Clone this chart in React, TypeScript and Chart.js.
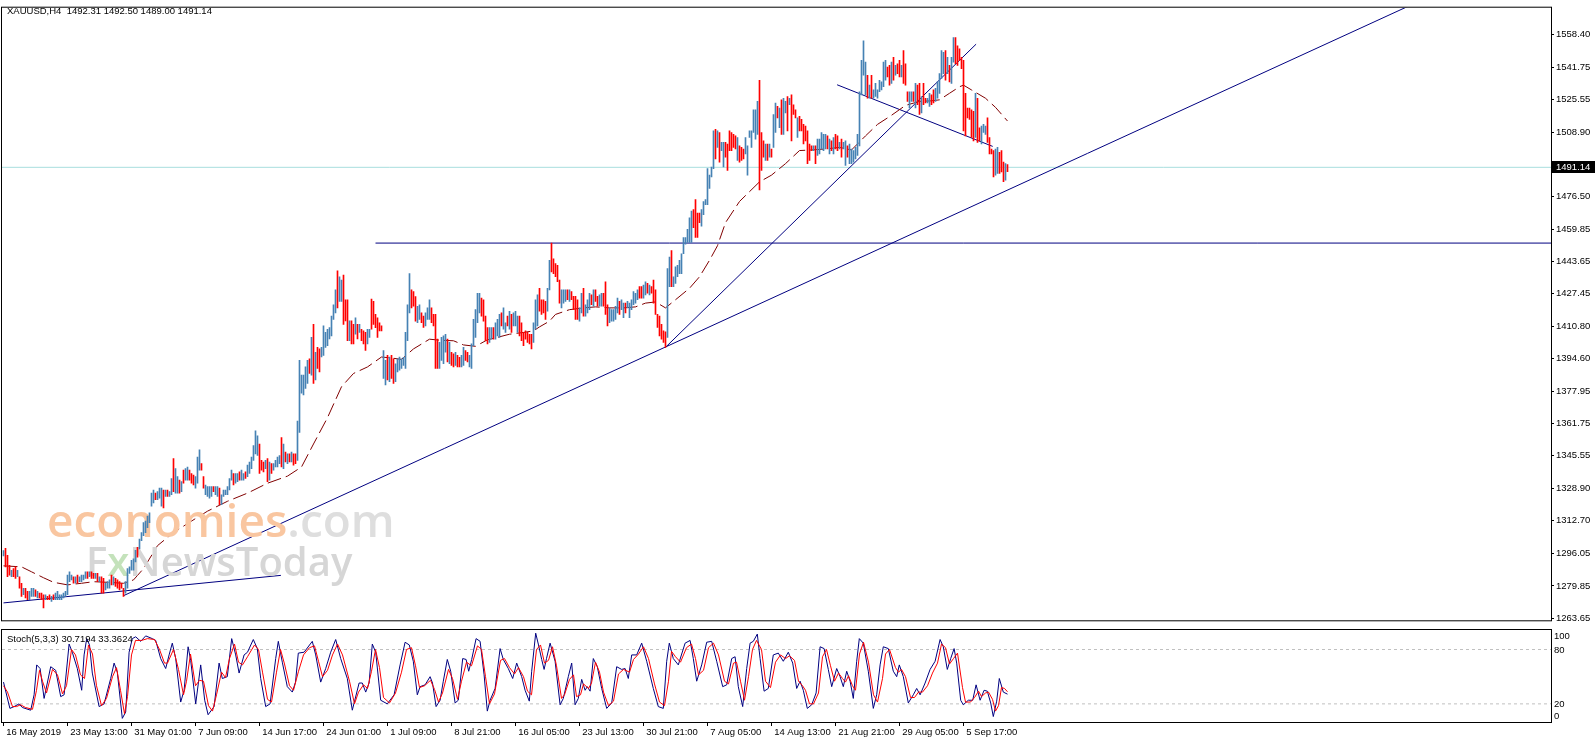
import React, { useEffect, useRef } from "react";
import { Chart, registerables } from "chart.js";
Chart.register(...registerables);

// ---------- data ----------
const symbol = "XAUUSD,H4";
const lastOHLC = [1492.31, 1492.5, 1489.0, 1491.14];
const lastPrice = 1491.14;

const barLow = [
  1295.0,1289.5,1284.5,1285.3,1284.5,1284.5,1283.7,1284.5,1278.7,1274.6,
  1275.4,1273.8,1272.9,1272.9,1274.6,1274.6,1274.6,1273.8,1273.8,1272.9,
  1268.8,1272.9,1272.9,1272.9,1272.1,1272.9,1272.9,1272.9,1272.9,1272.9,
  1273.8,1274.6,1275.4,1282.0,1282.9,1281.2,1281.2,1281.2,1282.0,1282.0,
  1282.9,1283.7,1283.7,1284.5,1283.7,1283.7,1283.7,1282.0,1282.0,1276.2,
  1276.2,1277.9,1278.7,1278.7,1280.4,1280.4,1279.6,1278.7,1277.9,1278.7,
  1274.6,1276.2,1278.7,1286.2,1287.8,1287.8,1292.0,1294.4,1298.6,1302.7,
  1305.2,1306.8,1309.3,1311.8,1320.1,1321.7,1323.4,1323.4,1324.2,1320.1,
  1319.3,1325.0,1325.0,1325.0,1325.9,1327.5,1326.7,1326.7,1326.7,1327.5,
  1331.7,1333.3,1333.3,1333.3,1331.7,1330.8,1329.2,1331.7,1338.3,1338.3,
  1329.2,1325.9,1325.0,1324.2,1325.0,1327.5,1325.9,1325.0,1320.9,1320.9,
  1325.0,1325.9,1325.9,1328.3,1333.3,1330.8,1331.7,1332.5,1333.3,1333.3,
  1333.3,1334.1,1335.0,1336.6,1339.1,1343.2,1346.5,1345.7,1336.6,1338.3,
  1337.4,1339.1,1332.5,1333.3,1336.6,1338.3,1339.9,1339.9,1341.6,1339.9,
  1339.1,1342.4,1341.6,1342.4,1342.4,1340.8,1341.6,1343.2,1357.3,1377.2,
  1376.3,1379.6,1382.1,1387.1,1386.3,1382.1,1383.8,1389.6,1387.9,1395.4,
  1396.2,1400.3,1401.1,1404.5,1406.1,1414.4,1417.7,1420.2,1423.5,1423.5,
  1411.9,1413.6,1403.6,1403.6,1402.0,1402.0,1406.9,1404.5,1407.8,1403.6,
  1402.0,1398.7,1402.0,1405.3,1409.4,1411.9,1410.2,1405.3,1408.6,1408.6,
  1384.6,1381.3,1383.8,1382.9,1384.6,1382.1,1382.9,1387.9,1388.7,1389.6,
  1391.2,1389.6,1403.6,1417.7,1420.2,1421.0,1413.5,1412.7,1414.4,1412.7,
  1410.3,1411.1,1414.4,1414.4,1412.7,1411.1,1389.6,1389.6,1389.6,1393.7,
  1392.0,1397.8,1392.9,1392.0,1391.2,1390.4,1391.2,1390.4,1390.4,1390.4,
  1391.2,1393.7,1392.9,1390.4,1389.6,1401.1,1405.3,1412.7,1417.7,1416.0,
  1413.5,1403.6,1402.0,1402.8,1404.4,1404.4,1404.4,1406.1,1405.3,1411.1,
  1409.4,1407.8,1411.1,1409.4,1407.8,1411.1,1411.1,1407.8,1406.1,1403.6,
  1401.1,1404.4,1402.8,1402.0,1399.5,1402.8,1409.4,1411.1,1418.5,1416.9,
  1417.7,1414.4,1418.5,1429.3,1438.4,1437.5,1435.9,1433.4,1422.6,1420.2,
  1422.6,1423.5,1424.3,1423.5,1424.3,1419.3,1414.4,1414.4,1413.5,1417.7,
  1416.0,1416.0,1417.7,1419.3,1421.8,1421.0,1423.5,1421.0,1421.0,1421.0,
  1421.0,1416.9,1411.1,1412.7,1413.5,1413.5,1414.4,1417.7,1416.9,1419.3,
  1415.2,1417.7,1420.2,1415.2,1419.3,1421.8,1422.6,1424.3,1425.1,1425.1,
  1425.1,1426.8,1427.6,1426.8,1427.6,1422.6,1416.9,1410.3,1406.1,1404.4,
  1402.8,1400.3,1405.3,1430.9,1430.9,1430.9,1432.6,1435.9,1437.5,1437.5,
  1447.5,1452.4,1453.2,1453.2,1453.2,1460.7,1455.7,1455.7,1463.2,1461.5,
  1467.3,1472.3,1472.3,1480.5,1486.3,1490.5,1495.4,1501.2,1493.8,1499.6,
  1491.3,1496.3,1489.6,1499.6,1499.6,1501.2,1500.4,1494.6,1493.8,1494.6,
  1495.4,1497.9,1487.2,1506.2,1501.2,1508.7,1505.4,1507.8,1479.7,1489.6,
  1496.3,1494.6,1494.6,1496.3,1496.3,1501.2,1508.7,1516.1,1511.1,1507.8,
  1507.8,1518.6,1509.5,1522.7,1504.5,1517.8,1516.1,1506.2,1509.5,1509.5,
  1502.9,1504.5,1493.0,1494.6,1499.6,1499.6,1493.0,1497.1,1497.9,1500.4,
  1499.6,1500.4,1500.4,1497.9,1499.6,1497.9,1500.4,1499.6,1500.4,1496.3,
  1500.4,1492.1,1496.3,1493.0,1493.0,1493.8,1495.4,1497.1,1502.0,1527.7,
  1537.6,1527.7,1526.0,1526.0,1526.0,1526.0,1526.9,1526.0,1529.3,1530.2,
  1531.8,1535.1,1536.8,1532.6,1533.5,1535.1,1537.6,1538.4,1536.8,1536.8,
  1533.5,1532.6,1524.4,1521.1,1524.4,1524.4,1521.1,1522.7,1517.8,1518.6,
  1522.7,1523.6,1523.6,1521.9,1522.7,1523.6,1524.4,1526.0,1528.5,1536.0,
  1538.4,1535.1,1538.4,1534.3,1533.5,1544.2,1543.4,1542.6,1545.1,1540.9,
  1509.5,1507.0,1516.1,1515.3,1506.2,1504.5,1506.2,1503.7,1504.5,1502.9,
  1508.7,1507.8,1503.7,1497.9,1497.9,1486.3,1487.2,1488.0,1488.0,1488.8,
  1483.9,1484.7,1489.0,
];

const barHigh = [
  1297.7,1298.9,1295.3,1290.3,1287.8,1288.6,1289.5,1287.8,1284.5,1281.2,
  1278.7,1278.7,1277.1,1277.1,1278.7,1278.7,1277.9,1277.1,1276.2,1276.2,
  1275.4,1275.4,1274.6,1275.4,1274.6,1275.4,1276.2,1277.1,1275.4,1275.4,
  1276.2,1277.1,1285.3,1287.0,1285.3,1284.5,1284.5,1285.3,1284.5,1285.3,
  1285.3,1287.0,1287.0,1287.0,1287.0,1286.2,1286.2,1286.2,1284.5,1284.5,
  1283.7,1281.2,1282.0,1282.9,1285.3,1284.5,1283.7,1282.9,1282.0,1281.2,
  1278.7,1282.0,1288.6,1289.5,1292.8,1293.6,1297.8,1299.4,1303.5,1306.8,
  1311.8,1312.6,1315.1,1316.8,1326.7,1328.3,1326.7,1327.5,1329.2,1329.2,
  1328.3,1328.3,1328.3,1327.5,1334.1,1344.1,1339.1,1335.0,1333.3,1332.5,
  1338.3,1339.1,1339.9,1338.3,1336.6,1335.8,1335.0,1344.9,1348.5,1341.6,
  1335.0,1330.8,1330.0,1330.0,1330.0,1330.0,1330.0,1330.0,1329.2,1325.9,
  1328.3,1328.3,1330.0,1334.1,1338.3,1336.6,1336.6,1336.6,1337.4,1338.3,
  1336.6,1337.4,1340.8,1342.4,1344.9,1350.7,1358.1,1355.6,1351.5,1343.2,
  1342.4,1343.2,1344.1,1342.4,1341.6,1341.6,1343.2,1344.9,1345.7,1354.8,
  1351.5,1347.4,1346.5,1346.5,1347.4,1346.5,1346.5,1363.1,1393.7,1386.3,
  1386.3,1390.4,1393.7,1394.5,1405.3,1411.9,1397.8,1400.3,1399.5,1400.3,
  1411.1,1407.8,1409.4,1410.3,1416.0,1421.8,1429.3,1438.9,1435.9,1434.2,
  1436.7,1424.3,1424.3,1413.6,1413.6,1411.9,1415.2,1411.9,1411.9,1409.4,
  1408.6,1407.8,1409.4,1409.4,1424.6,1423.5,1416.9,1415.2,1412.7,1411.1,
  1398.7,1393.7,1396.2,1395.4,1396.2,1394.5,1392.0,1394.5,1395.4,1394.5,
  1395.3,1407.8,1421.8,1437.5,1429.3,1428.4,1425.9,1421.0,1421.8,1417.7,
  1416.0,1417.7,1420.2,1424.3,1420.2,1416.9,1416.9,1404.4,1402.8,1405.3,
  1406.1,1406.9,1404.4,1402.8,1397.8,1397.0,1397.8,1396.2,1395.3,1396.2,
  1400.3,1398.7,1397.8,1396.2,1402.0,1414.4,1419.3,1427.6,1427.6,1425.1,
  1424.3,1416.0,1410.3,1410.3,1410.3,1410.3,1412.7,1414.4,1416.9,1417.7,
  1420.2,1412.7,1416.0,1418.5,1416.9,1417.7,1418.5,1416.0,1416.0,1412.7,
  1407.8,1408.6,1407.8,1406.9,1406.9,1412.7,1424.3,1426.8,1430.1,1424.3,
  1424.3,1423.5,1430.1,1444.2,1452.9,1445.0,1442.5,1441.7,1434.2,1429.3,
  1429.3,1429.3,1429.3,1429.3,1428.4,1426.0,1426.0,1424.3,1420.2,1427.6,
  1430.1,1421.8,1424.3,1427.6,1426.8,1429.3,1429.3,1426.0,1426.8,1427.6,
  1427.6,1433.4,1421.8,1420.2,1419.3,1419.3,1421.0,1425.1,1423.5,1424.3,
  1422.6,1422.6,1423.5,1422.6,1424.3,1428.4,1427.6,1429.3,1430.9,1430.9,
  1431.7,1433.4,1432.6,1431.7,1430.9,1434.2,1429.3,1416.9,1416.0,1411.9,
  1408.6,1408.1,1440.0,1445.8,1449.1,1435.9,1440.9,1441.7,1444.2,1447.5,
  1455.7,1455.7,1459.9,1465.7,1469.0,1469.8,1474.8,1468.1,1468.1,1469.8,
  1473.9,1474.8,1490.5,1487.2,1491.3,1509.5,1510.3,1509.5,1508.7,1503.7,
  1503.7,1503.7,1502.9,1509.5,1508.7,1507.8,1507.0,1506.2,1502.0,1501.2,
  1500.4,1506.2,1502.0,1509.5,1509.5,1520.2,1520.2,1524.4,1535.1,1508.7,
  1504.5,1502.9,1502.9,1502.9,1500.4,1517.8,1523.6,1521.9,1521.1,1525.2,
  1526.0,1524.4,1526.9,1526.0,1527.7,1522.7,1520.2,1516.1,1516.9,1515.3,
  1512.8,1512.0,1509.5,1502.9,1502.0,1502.0,1502.0,1505.4,1505.4,1508.7,
  1507.8,1507.8,1507.0,1505.4,1504.5,1506.2,1507.8,1507.0,1503.7,1505.4,
  1503.7,1504.5,1502.0,1502.9,1500.4,1499.6,1501.2,1507.8,1529.3,1545.1,
  1555.0,1544.2,1537.6,1532.6,1537.6,1530.2,1533.5,1530.2,1535.1,1534.3,
  1544.2,1545.1,1541.7,1542.6,1544.2,1546.7,1542.6,1543.4,1545.1,1542.6,
  1550.0,1543.4,1529.3,1529.3,1529.3,1529.3,1533.5,1532.6,1533.5,1526.9,
  1533.5,1526.0,1526.0,1528.5,1527.7,1530.2,1531.0,1534.3,1538.4,1550.0,
  1549.2,1550.0,1546.7,1542.6,1546.7,1556.6,1556.6,1552.5,1550.9,1546.7,
  1545.1,1528.5,1521.1,1521.1,1520.2,1519.4,1528.5,1526.0,1511.1,1512.0,
  1512.8,1512.0,1516.1,1506.2,1500.4,1499.6,1500.4,1501.2,1498.7,1499.6,
  1493.8,1493.0,1492.5,
];

// 1 = up bar (close above open), 0 = down bar
const barUp = [
  1,0,0,0,1,0,0,1,0,0, 1,0,0,1,1,1,0,1,0,0, 0,1,0,0,1,0,1,1,1,1, 1,1,1,1,1,0,1,0,1,1,
  1,1,0,1,0,0,1,0,1,0, 0,1,1,1,0,1,0,0,0,0, 0,1,1,1,1,1,1,0,1,1, 1,1,1,1,1,1,0,1,1,1,
  0,1,0,1,1,0,1,1,0,1, 0,1,1,0,0,0,1,1,1,0, 0,1,1,1,1,0,1,1,0,1, 1,1,1,1,1,0,1,1,0,1,
  1,0,1,1,1,1,1,1,0,0, 0,1,0,1,0,1,1,1,1,0, 1,0,1,0,1,0,0,1,1,1, 1,1,1,0,1,0,1,0,0,1,
  1,1,1,1,1,1,1,0,1,1, 0,0,0,1,0,0,1,0,1,0, 0,0,1,1,0,0,0,0,0,0, 1,1,0,1,0,0,1,1,1,1,
  1,1,1,1,0,0,0,1,1,0, 0,1,1,1,0,0,0,0,1,1, 1,1,0,1,0,0,1,0,0,1, 1,0,0,1,1,1,1,1,1,0,
  0,0,0,1,1,0,1,1,1,0, 1,1,0,1,0,1,1,1,0,0, 0,0,0,0,0,1,1,1,0,0, 0,0,1,1,0,0,0,0,0,1,
  1,1,0,1,0,0,0,0,1,1, 0,1,1,1,0,1,0,0,1,1, 0,0,0,1,1,1,1,1,0,1, 1,0,1,1,1,1,1,1,0,0,
  1,1,0,1,0,0,0,0,0,0, 0,0,1,1,0,1,1,1,1,1, 1,1,1,1,1,0,0,0,0,1, 1,1,1,1,1,1,0,1,0,1,
  1,0,0,0,0,0,0,1,0,0, 0,1,1,1,1,1,1,1,0,0, 0,1,0,1,0,1,1,0,1,0, 1,1,0,1,0,0,0,1,0,0,
  0,0,0,0,0,1,0,1,1,1, 1,1,0,1,0,1,0,0,1,0, 1,1,0,1,1,1,1,1,1,1, 1,1,0,1,0,1,1,1,1,1,
  1,1,0,0,1,0,1,0,0,1, 0,0,0,1,1,0,1,0,0,1, 0,0,1,1,0,0,1,1,1,1, 1,0,1,0,1,1,0,0,0,0,
  0,0,0,0,0,0,1,0,0,1, 1,1,0,0,0,0,1,1,0,0, 0,1,0,
];

// dashed moving average: [bar index, price]
const maPoints = [
  [0,1290.0],[9,1289.5],[14,1287.0],[20,1284.0],[25,1281.7],[32,1280.4],[39,1281.2],[45,1282.0],
  [52,1281.7],[60,1281.2],[65,1282.9],[70,1288.6],[77,1300.2],[85,1306.8],[94,1312.6],[102,1317.6],
  [112,1322.6],[122,1326.7],[132,1331.7],[142,1335.3],[149,1339.9],[155,1351.5],[162,1364.8],
  [169,1380.4],[175,1387.1],[182,1390.4],[189,1395.4],[194,1394.9],[199,1394.2],[205,1399.5],
  [213,1404.4],[218,1403.9],[225,1403.6],[230,1401.5],[236,1400.8],[242,1404.1],[248,1405.6],
  [253,1406.9],[260,1407.8],[265,1408.6],[268,1410.6],[273,1413.5],[276,1416.9],[283,1419.3],
  [290,1420.2],[296,1420.7],[303,1420.2],[310,1420.2],[316,1420.7],[321,1422.6],[326,1423.2],
  [331,1420.2],[336,1424.3],[343,1430.1],[348,1435.9],[353,1444.2],[357,1451.6],[361,1463.2],
  [368,1473.9],[378,1483.8],[384,1487.2],[391,1493.0],[398,1499.6],[404,1499.9],[411,1500.4],
  [418,1501.2],[424,1499.9],[431,1507.0],[437,1512.8],[444,1517.4],[451,1522.4],[458,1524.4],
  [464,1524.7],[468,1525.2],[473,1528.5],[478,1531.8],[480,1532.6],[484,1530.2],[491,1526.0],
  [496,1521.4],[502,1514.5],
];

// drawn objects: [bar index, price]
const resistanceLevel = 1452.9;
const resistanceStart = 186;
const trendShort = [[0, 1271.3], [138.7, 1285.2]];
const trendLong = [[59.9, 1274.9], [720, 1580.6]];
const trendSteep = [[331, 1400.3], [486.3, 1553.3]];
const trendDown = [[416.8, 1532.8], [494.6, 1501.7]];

const priceTicks = [
  1558.4, 1541.75, 1525.55, 1508.9, 1492.7, 1476.5, 1459.85, 1443.65, 1427.45, 1410.8,
  1394.6, 1377.95, 1361.75, 1345.55, 1328.9, 1312.7, 1296.05, 1279.85, 1263.65,
];

const dateLabels = [
  "16 May 2019", "23 May 13:00", "31 May 01:00", "7 Jun 09:00", "14 Jun 17:00", "24 Jun 01:00",
  "1 Jul 09:00", "8 Jul 21:00", "16 Jul 05:00", "23 Jul 13:00", "30 Jul 21:00", "7 Aug 05:00",
  "14 Aug 13:00", "21 Aug 21:00", "29 Aug 05:00", "5 Sep 17:00",
];
const labelStep = 32;

// Stochastic(5,3,3): [bar index, value]
const stochMain = [
  [0,44],[3.2,15],[5.3,17],[7.8,20],[9.4,16],[13.6,13],[15.3,30],[16.6,63],[18.3,59],[20.3,26],
  [23.6,61],[26.1,57],[28.6,28],[30.3,30],[32.8,86],[34.4,77],[36.9,59],[39.1,35],[40.3,74],[41.6,92],
  [43,85],[44.4,54],[47.8,17],[50.3,20],[53.6,48],[55.3,65],[56.9,55],[59.4,4],[61.1,11],[62.8,77],
  [64.4,92],[66.1,94],[68.6,89],[71.1,95],[74.4,92],[76.1,90],[78.6,70],[81.1,59],[82.8,74],[84.4,87],
  [86.1,70],[88.6,22],[90.3,35],[92.3,83],[93.6,68],[96.1,20],[98.6,63],[100.6,24],[102.3,8],[105.3,17],
  [107.8,65],[109.4,48],[111.9,50],[114.1,92],[116.1,74],[117.8,54],[120.3,74],[122,77],[124.9,91],
  [126.9,81],[128.6,48],[131.1,17],[133.3,20],[136.1,70],[137.4,89],[139.4,66],[141.9,39],[144.4,33],
  [146,44],[147.4,76],[150.3,77],[154.4,89],[156.1,74],[158.6,44],[161.1,59],[163.6,77],[166.1,91],
  [168.6,70],[171.9,48],[174.4,13],[177.8,43],[179.4,43],[181.1,33],[182.8,43],[184.4,86],[186.1,77],
  [188.6,24],[191.9,20],[195.3,30],[198.3,63],[200.8,88],[202.9,85],[204.9,67],[206.9,30],[208.3,39],
  [210.8,41],[213.3,50],[214.5,43],[216.3,17],[218.3,24],[219.9,45],[221.9,69],[223.6,56],[225.8,21],
  [227.4,24],[229.6,70],[231.3,69],[232.6,56],[234.1,69],[236.3,92],[238.3,89],[240.3,52],[241.9,12],
  [243.3,24],[245.8,37],[248.3,81],[249.9,69],[252.4,59],[254.6,48],[256.6,65],[259.1,50],[260.8,35],
  [262.9,23],[264.1,56],[266.1,98],[267.5,85],[269.1,69],[270.3,58],[271.5,70],[273.3,87],[275.8,67],
  [278.3,19],[279.9,26],[282.4,50],[284.1,65],[285.8,19],[287.4,26],[289.1,47],[290.8,35],[291.9,39],
  [293.3,34],[294.9,70],[296.9,61],[299.1,37],[301.6,15],[304.1,21],[306.6,61],[309.1,58],[310.8,59],
  [312.4,48],[314.1,74],[316.6,74],[319.1,87],[321.6,67],[324.9,37],[327.4,17],[329.9,15],[331.6,67],
  [332.9,87],[334.9,70],[337.4,63],[340.8,87],[343.3,90],[344.9,70],[346.6,45],[349.1,63],[351.6,88],
  [354.1,89],[356.6,67],[359.6,39],[361.6,41],[364.1,70],[365.8,72],[367.4,39],[369.6,17],[371.6,59],
  [373.3,87],[374.9,89],[376.9,97],[378.3,70],[380.3,34],[382.4,37],[384.9,74],[387.4,76],[389.9,67],
  [392.4,77],[394.6,65],[396.6,37],[398.3,45],[399.9,35],[401.9,15],[404.1,19],[406.3,32],[408.3,83],
  [410.3,81],[412.4,58],[414.1,39],[416.6,59],[418.3,50],[419.9,39],[421.6,56],[423.3,45],[424.9,26],
  [426.6,67],[427.9,92],[429.9,87],[432.4,56],[434.9,15],[436.6,30],[438.3,63],[439.9,83],[442.4,81],
  [444.9,56],[446.6,50],[447.9,63],[449.9,50],[452.4,21],[454.9,30],[456.6,37],[458.3,30],[460.8,43],
  [463.3,58],[465.8,67],[468.3,91],[469.9,83],[471.9,58],[473.6,70],[475.3,81],[476.6,65],[478.6,24],
  [479.9,19],[482.4,24],[484.6,24],[486.3,41],[488.3,24],[490.3,35],[491.9,34],[493.6,21],[494.9,6],
  [496.6,23],[497.9,48],[499.9,33],[502,30.7194],
];
const stochSignal = [
  [0,40],[2,33],[4.5,17],[6.5,17],[8.5,19],[11,16],[14.5,14],[16.5,35],[18,57],[19.5,45],[21.5,32],
  [24.5,58],[27,52],[29.5,31],[31.5,40],[34,80],[36,74],[38.5,52],[40.5,48],[42.5,85],[44.5,75],
  [46.5,40],[49,18],[51.5,26],[54.5,50],[56.5,60],[58.5,35],[60.5,9],[62,28],[64,74],[66,90],[69,90],
  [72,92],[75.5,91],[78,80],[80.5,65],[82,65],[85,80],[87.5,58],[90,30],[91.5,45],[93.5,75],[96,40],
  [98,46],[100,45],[102.5,18],[104.5,12],[106.5,30],[109,55],[111,49],[113,70],[115.5,86],[117.5,66],
  [119.5,63],[122,72],[125.5,85],[127.5,80],[129.5,55],[132,25],[134,22],[136.5,55],[138.5,80],
  [140.5,64],[143,40],[145,35],[147.5,56],[150,74],[153,82],[155.5,84],[157.5,67],[159.5,50],[162,57],
  [164.5,74],[167,86],[169.5,74],[173,45],[175.5,20],[177.5,33],[180,41],[182,37],[184,56],[186,80],
  [188,60],[190,27],[193,21],[196,32],[199,55],[201.5,80],[204,82],[206,62],[208,38],[210.5,40],
  [213.5,46],[215.5,36],[217.5,22],[219.5,32],[222.5,58],[224.5,48],[227,25],[229,45],[231.5,66],
  [234,62],[237,84],[239,80],[241,50],[243,20],[245.5,31],[248.5,68],[250.5,70],[253,60],[255.5,53],
  [257.5,60],[260,50],[262,34],[264,30],[266.5,80],[268.5,85],[270.5,65],[272.5,68],[274.5,83],
  [276.5,62],[279,26],[280.5,30],[283,47],[285,52],[286.5,28],[288.5,30],[290,42],[292.5,37],[294,43],
  [296,66],[298,55],[300,33],[302.5,18],[305,23],[307.5,53],[310,58],[313,55],[315,69],[317.5,75],
  [320,83],[322.5,70],[325.5,42],[328,22],[330.5,18],[332.5,45],[334,78],[336,72],[338.5,66],[341.5,82],
  [344,86],[346,70],[347.5,52],[350,57],[352.5,82],[355,87],[357.5,74],[360.5,45],[362.5,42],[365,65],
  [366.5,66],[368.5,45],[370.5,24],[372.5,50],[374.5,80],[376.5,90],[379,80],[381,45],[383.5,38],
  [386,66],[388.5,74],[391,70],[393,73],[395.5,68],[397.5,45],[399.5,40],[401,35],[403,20],[405,20],
  [407.5,32],[409.5,72],[411.5,80],[413.5,62],[415.5,45],[417.5,54],[419.5,48],[421,44],[422.5,51],
  [424.5,40],[426,35],[428,75],[430,88],[432.5,66],[435,30],[437,22],[439.5,48],[441,75],[443,80],
  [446,60],[447.5,55],[449,58],[451,50],[453.5,27],[455.5,27],[457.5,33],[459.5,33],[462,40],[464.5,54],
  [467,65],[469,86],[471,82],[473,64],[475,70],[477,76],[479.5,38],[481,22],[483.5,22],[485.5,27],
  [487.5,34],[489,28],[491,32],[492.5,33],[494.5,25],[496,12],[497.5,18],[499,38],[500.5,37],[502,33.3624],
];
const stochLevels = [100, 80, 20, 0];
const stochDashed = [80, 20];

// ---------- styling ----------
const UP = "#4682b4";
const DOWN = "#ff0000";
const NAVY = "#000080";
const FONT = "'Liberation Sans', Arial, sans-serif";
const FS = 9.5;

const X_MIN = -0.75;
const X_MAX = 773.75;
const Y_MIN = 1262.52;
const Y_MAX = 1571.7;

const pts = (arr: number[][]) => arr.map(([x, y]) => ({ x, y }));
const seg = (arr: number[][], color: string, order: number, extra: any = {}) => ({
  type: "line",
  data: pts(arr),
  borderColor: color,
  borderWidth: 1,
  pointRadius: 0,
  fill: false,
  tension: 0,
  order,
  ...extra,
});

function drawWatermark(ctx: CanvasRenderingContext2D) {
  ctx.save();
  ctx.textAlign = "left";
  ctx.textBaseline = "alphabetic";
  ctx.font = "600 46px 'Open Sans', sans-serif";
  ctx.fillStyle = "#f9c6a0";
  ctx.fillText("economies", 47, 537);
  const w = ctx.measureText("economies").width;
  ctx.fillStyle = "#dedede";
  ctx.fillText(".com", 47 + w, 537);
  ctx.font = "600 40px 'Open Sans', sans-serif";
  let x = 86;
  ctx.fillStyle = "#d6d6d6";
  ctx.fillText("F", x, 576);
  x += ctx.measureText("F").width;
  ctx.fillStyle = "#c4e2bb";
  ctx.fillText("x", x, 576);
  x += ctx.measureText("x").width;
  ctx.fillStyle = "#d6d6d6";
  ctx.fillText("NewsToday", x, 576);
  ctx.restore();
}

export default function App() {
  const mainRef = useRef<HTMLCanvasElement>(null);
  const stochRef = useRef<HTMLCanvasElement>(null);

  useEffect(() => {
    const n = Math.min(barLow.length, barHigh.length, barUp.length);
    const bars = [];
    for (let i = 0; i < n; i++) bars.push({ x: i, y: [barLow[i], barHigh[i]] });

    const mainDecor = {
      id: "mainDecor",
      beforeDatasetDraw(chart: any, args: any) {
        if (args.index === 0) drawWatermark(chart.ctx);
      },
      afterDraw(chart: any) {
        const { ctx, chartArea: a } = chart;
        ctx.save();
        ctx.strokeStyle = "#000";
        ctx.lineWidth = 1;
        ctx.strokeRect(a.left - 0.5, a.top - 0.5, a.right - a.left + 1, a.bottom - a.top + 1);
        ctx.font = `${FS}px ${FONT}`;
        ctx.textBaseline = "middle";
        ctx.textAlign = "left";
        ctx.fillStyle = "#000";
        ctx.fillText(`${symbol}  ${lastOHLC.map((v) => v.toFixed(2)).join(" ")}`, 7, 11);
        const y = chart.scales.y.getPixelForValue(lastPrice);
        ctx.fillStyle = "#000";
        ctx.fillRect(a.right + 1, Math.round(y) - 6, 43, 12);
        ctx.fillStyle = "#fff";
        ctx.fillText(lastPrice.toFixed(2), a.right + 5, Math.round(y));
        ctx.restore();
      },
    };

    const main = new Chart(mainRef.current as HTMLCanvasElement, {
      type: "bar",
      data: {
        datasets: [
          {
            type: "bar",
            data: bars,
            backgroundColor: (c: any) => (barUp[c.dataIndex] ? UP : DOWN),
            borderWidth: 0,
            barThickness: 1,
            grouped: false,
            order: 0,
          },
          seg(maPoints, "#800000", 2, { borderDash: [14, 5] }),
          seg([[X_MIN, lastPrice], [X_MAX, lastPrice]], "#a9dede", 6),
          seg([[resistanceStart, resistanceLevel], [X_MAX, resistanceLevel]], NAVY, 3),
          seg(trendShort, NAVY, 3),
          seg(trendLong, NAVY, 3),
          seg(trendSteep, NAVY, 3),
          seg(trendDown, NAVY, 3),
        ] as any,
      },
      options: {
        animation: false,
        responsive: false,
        events: [],
        layout: { padding: { left: 2, top: 3, right: 0, bottom: 2 } },
        plugins: { legend: { display: false }, tooltip: { enabled: false } },
        scales: {
          x: { type: "linear", min: X_MIN, max: X_MAX, display: false, offset: false },
          y: {
            type: "linear",
            position: "right",
            min: Y_MIN,
            max: Y_MAX,
            afterFit: (s: any) => {
              s.width = 45;
            },
            afterBuildTicks: (s: any) => {
              s.ticks = priceTicks.map((v) => ({ value: v }));
            },
            ticks: {
              callback: (v: any) => Number(v).toFixed(2),
              font: { family: FONT, size: FS },
              color: "#000",
              padding: 2,
              autoSkip: false,
            },
            grid: { drawOnChartArea: false, drawTicks: true, tickLength: 3, color: "#000" },
            border: { display: false },
          },
        },
      } as any,
      plugins: [mainDecor],
    });

    const stochDecor = {
      id: "stochDecor",
      afterDraw(chart: any) {
        const { ctx, chartArea: a } = chart;
        ctx.save();
        ctx.strokeStyle = "#000";
        ctx.lineWidth = 1;
        ctx.strokeRect(a.left - 0.5, a.top - 0.5, a.right - a.left + 1, a.bottom - a.top + 1);
        ctx.font = `${FS}px ${FONT}`;
        ctx.textBaseline = "middle";
        ctx.textAlign = "left";
        ctx.fillStyle = "#000";
        const k = stochMain[stochMain.length - 1][1];
        const d = stochSignal[stochSignal.length - 1][1];
        ctx.fillText(`Stoch(5,3,3) ${k.toFixed(4)} ${d.toFixed(4)}`, 7, 11);
        for (const v of stochLevels) {
          let y = chart.scales.y.getPixelForValue(v);
          y = Math.max(a.top + 6, Math.min(a.bottom - 6, y));
          ctx.fillText(String(v), a.right + 3, y + 0.5);
        }
        ctx.restore();
      },
    };

    const stoch = new Chart(stochRef.current as HTMLCanvasElement, {
      type: "line",
      data: {
        datasets: [
          seg(stochSignal, "#ff0000", 0),
          seg(stochMain, NAVY, 1),
          ...stochDashed.map((v) => seg([[X_MIN, v], [X_MAX, v]], "#c0c0c0", 5, { borderDash: [3, 3] })),
        ] as any,
      },
      options: {
        animation: false,
        responsive: false,
        events: [],
        layout: { padding: { left: 2, top: 2, right: 45, bottom: 0 } },
        plugins: { legend: { display: false }, tooltip: { enabled: false } },
        scales: {
          x: {
            type: "linear",
            min: X_MIN,
            max: X_MAX,
            offset: false,
            afterFit: (s: any) => {
              s.height = 21;
            },
            afterBuildTicks: (s: any) => {
              s.ticks = dateLabels.map((_, k) => ({ value: k * labelStep }));
            },
            ticks: {
              callback: (_v: any, idx: number) => " " + dateLabels[idx],
              align: "start",
              font: { family: FONT, size: FS },
              color: "#000",
              padding: 1,
              maxRotation: 0,
              minRotation: 0,
              autoSkip: false,
            },
            grid: { drawOnChartArea: false, drawTicks: true, tickLength: 4, color: "#000" },
            border: { display: false },
          },
          y: { type: "linear", min: 0, max: 101.5, display: false },
        },
      } as any,
      plugins: [stochDecor],
    });

    return () => {
      main.destroy();
      stoch.destroy();
    };
  }, []);

  return (
    <div
      style={{
        position: "fixed",
        left: 0,
        top: 0,
        width: 1596,
        height: 743,
        background: "#fff",
        overflow: "hidden",
      }}
    >
      <canvas
        ref={mainRef}
        width={1596}
        height={628}
        style={{ position: "absolute", left: 0, top: 0, width: 1596, height: 628 }}
      />
      <canvas
        ref={stochRef}
        width={1596}
        height={115}
        style={{ position: "absolute", left: 0, top: 628, width: 1596, height: 115 }}
      />
    </div>
  );
}
